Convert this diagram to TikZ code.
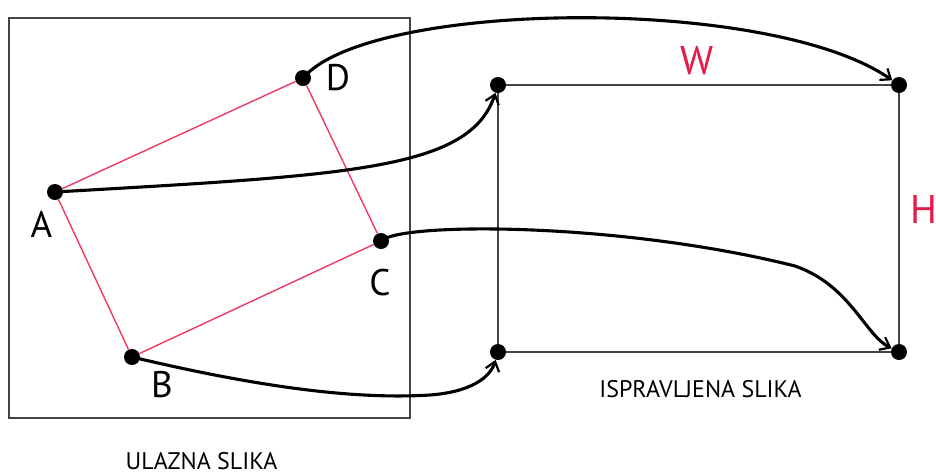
\documentclass[tikz,border=0pt]{standalone}
\usepackage{fontspec}
\setmainfont{PT Sans}
\usetikzlibrary{arrows.meta}
\definecolor{quadred}{HTML}{F03A60}
\definecolor{labred}{HTML}{E6194B}
\definecolor{frame}{HTML}{444444}
\tikzset{
  dot/.style={circle,fill=black,inner sep=0pt,minimum size=16pt},
  quad/.style={draw=quadred,line width=1.4pt},
  framebox/.style={draw=frame,line width=1.8pt},
  rectline/.style={draw=frame,line width=1.8pt},
  mapcurve/.style={draw=black,line width=3.1pt,-{Straight Barb[length=9pt,width=14pt,line width=2.2pt]}},
  ptlabel/.style={anchor=base,inner sep=0pt,font=\fontsize{37}{40}\selectfont},
  dimlabel/.style={anchor=base,inner sep=0pt,text=labred,font=\fontsize{40}{44}\selectfont},
  caption/.style={anchor=base,inner sep=0pt,font=\fontsize{24}{26}\selectfont},
}
\begin{document}
\begin{tikzpicture}[x=1pt,y=-1pt]
\useasboundingbox (0,0) rectangle (936,475);
% input image frame
\node[framebox,rectangle,inner sep=0pt,minimum width=401pt,minimum height=400pt] (frame) at (209.5,218) {};
% source points
\node[dot] (A) at (55,192) {};
\node[dot] (B) at (132,357) {};
\node[dot] (C) at (381,241) {};
\node[dot] (D) at (303,78) {};
\draw[quad] (A) -- (B) -- (C) -- (D) -- (A);
% target rectangle
\node[dot] (TL) at (498,85) {};
\node[dot] (TR) at (899,85) {};
\node[dot] (BL) at (498,352) {};
\node[dot] (BR) at (899,352) {};
\draw[rectline] (TL) -- (TR);
\draw[rectline] (TR) -- (BR);
\draw[rectline] (BR) -- (BL);
\draw[rectline] (BL) -- (TL);
% mapping curves
\draw[mapcurve] (D.center) .. controls (370,0) and (770,-5) .. (TR);
\draw[mapcurve] (A.center) .. controls (350,175) and (470,170) .. (TL);
\draw[mapcurve] (C.center) .. controls (400,222) and (620,222) .. (795,266) .. controls (850,285) and (865,335) .. (BR);
\draw[mapcurve] (B.center) .. controls (250,385) and (350,400) .. (430,395) .. controls (470,392) and (490,378) .. (BL);
% labels
\node[ptlabel] (lA) at (41.5,237) {A};
\node[ptlabel] (lB) at (162,397) {B};
\node[ptlabel] (lC) at (380,295) {C};
\node[ptlabel] (lD) at (338,90) {D};
\node[dimlabel] (lW) at (697,74) {W};
\node[dimlabel] (lH) at (923.5,223) {H};
\node[caption] (cin) at (201.5,469) {ULAZNA SLIKA};
\node[caption] (cout) at (700.5,397) {ISPRAVLJENA SLIKA};
\end{tikzpicture}
\end{document}
